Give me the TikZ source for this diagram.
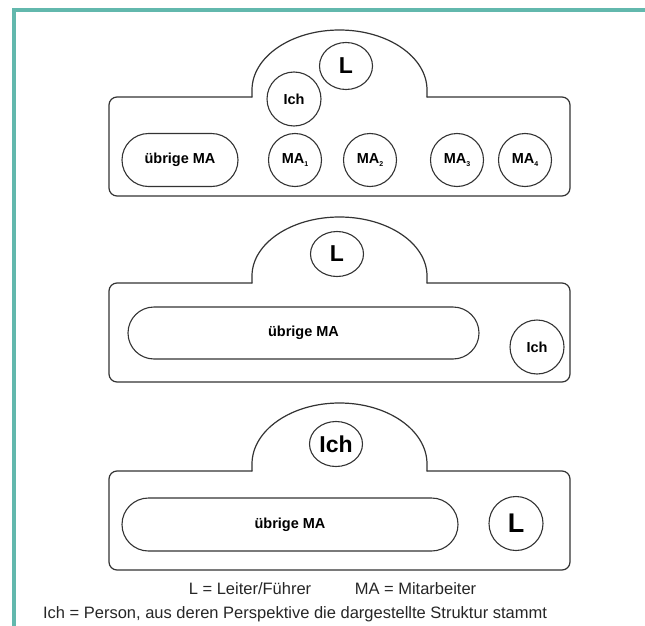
\documentclass[tikz,border=0pt]{standalone}
\usepackage{fontspec}
\setmainfont{Liberation Sans}
\usepackage{xcolor}
\definecolor{frameTeal}{HTML}{62B8AD}
\definecolor{inkGray}{HTML}{333333}
\usepackage{tikz}
\usetikzlibrary{shapes.misc, shapes.geometric}
\tikzset{
    panelline/.style={draw=inkGray, line width=1.2pt, line cap=round, line join=round},
    person/.style={circle, draw=inkGray, line width=1.1pt, minimum size=53pt, inner sep=0pt,
                   font=\bfseries\fontsize{14.5}{16}\selectfont},
    bigperson/.style={ellipse, draw=inkGray, line width=1.1pt, minimum width=53pt, minimum height=47pt,
                      inner sep=0pt, font=\bfseries\fontsize{23}{25}\selectfont},
    restbox/.style={rounded rectangle, draw=inkGray, line width=1.1pt, minimum height=53pt, inner sep=0pt,
                    font=\bfseries\fontsize{14.5}{16}\selectfont},
    legend/.style={font=\fontsize{16.5}{18}\selectfont, text=black!85, inner sep=0pt, anchor=base}
}
\newcommand\subnum[1]{\raisebox{-2.5pt}{\fontsize{7}{7}\selectfont #1}}

\begin{document}
\begin{tikzpicture}[x=1pt, y=-1pt]
  \useasboundingbox (0,0) rectangle (645,626);

  % frame (top and left edge only)
  \draw[frameTeal, line width=4pt] (645,10.5) -- (14,10.5) -- (14,626);

  % outlines: rectangle with a dome on top
  \def\rL{109}  % rectangle left
  \def\rR{570}  % rectangle right
  \def\dL{252}  % dome left
  \def\dR{427}  % dome right
  \foreach \t/\d in {97/30, 283/217, 471/403}{
    \pgfmathsetmacro\b{\t+99}
    \draw[panelline, rounded corners=8pt]
      (\dL,\t) -- (\rL,\t) -- (\rL,\b) -- (\rR,\b) -- (\rR,\t) -- (\dR,\t);
    \pgfmathsetmacro\ry{\t-\d-7}
    \draw[panelline]
      (\dL,\t) -- (\dL,\t-7) arc[start angle=180, end angle=360, x radius=87.5, y radius=\ry] -- (\dR,\t);
  }

  % --- top: Ich close to the leader
  \node[bigperson] (lTop)   at (346,66)  {L};
  \node[person, minimum width=54pt, minimum height=50pt] (ichTop) at (294,99) {Ich};
  \node[restbox, minimum width=116pt] (restTop) at (180,160) {übrige MA};
  \node[person] (maOne)   at (295,160) {MA\subnum{1}};
  \node[person] (maTwo)   at (370,160) {MA\subnum{2}};
  \node[person] (maThree) at (457,160) {MA\subnum{3}};
  \node[person] (maFour)  at (525,160) {MA\subnum{4}};

  % --- middle: Ich at the edge
  \node[bigperson, minimum height=45pt] (lMid) at (337,254) {L};
  \node[restbox, minimum width=351pt, minimum height=52pt] (restMid) at (303.5,333) {übrige MA};
  \node[person, minimum size=54pt] (ichMid) at (537,347) {Ich};

  % --- bottom: Ich in the leading position
  \node[bigperson, minimum height=45pt] (ichBot) at (336,444) {Ich};
  \node[restbox, minimum width=336pt] (restBot) at (290,524.5) {übrige MA};
  \node[person, minimum size=54pt, font=\bfseries\fontsize{27}{29}\selectfont] (lBot) at (516,523.5) {L};

  % legend
  \node[legend] (keyL)   at (250,594) {L = Leiter/Führer};
  \node[legend] (keyMA)  at (415.5,594) {MA = Mitarbeiter};
  \node[legend] (keyIch) at (295,618) {Ich = Person, aus deren Perspektive die dargestellte Struktur stammt};
\end{tikzpicture}
\end{document}
